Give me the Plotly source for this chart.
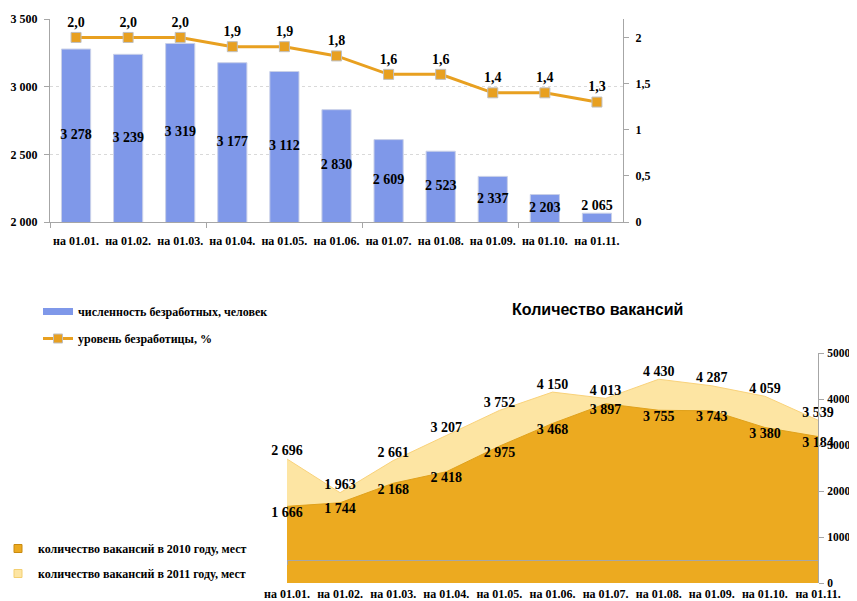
import plotly.graph_objects as go

categories = ["на 01.01.", "на 01.02.", "на 01.03.", "на 01.04.", "на 01.05.", "на 01.06.",
              "на 01.07.", "на 01.08.", "на 01.09.", "на 01.10.", "на 01.11."]
unemployed = [3278, 3239, 3319, 3177, 3112, 2830, 2609, 2523, 2337, 2203, 2065]
rate = [2.0, 2.0, 2.0, 1.9, 1.9, 1.8, 1.6, 1.6, 1.4, 1.4, 1.3]
vac2010 = [1666, 1744, 2168, 2418, 2975, 3468, 3897, 3755, 3743, 3380, 3184]
vac2011 = [2696, 1963, 2661, 3207, 3752, 4150, 4013, 4430, 4287, 4059, 3539]

# page is 857x601; the html body has an 8px margin, so the figure is placed at (8, 8)
PAGE_W, PAGE_H, OFF = 857, 601, 8
W, H = PAGE_W - OFF, PAGE_H - OFF
SERIF = "Liberation Serif, Times New Roman, Tinos, DejaVu Serif, serif"
BOLD = "bold"
AXIS_GRAY = "#A6A6A6"
BAR_BLUE = "#7F98E9"
LINE_ORANGE = "#E8A020"
AREA_2010 = "#ECAA20"
AREA_2011 = "#FDE5A3"

def px_x(p):
    return (p - OFF) / W

def px_y(p):
    return (PAGE_H - p) / H

top_dom_x = [px_x(50), px_x(623)]
top_dom_y = [px_y(222), px_y(19)]
top_range = [2000, 3500]
bot_dom_x = [px_x(287), px_x(818)]
bot_dom_y = [px_y(583), px_y(353)]
bot_range = [0, 5000]
axis_cross = 500
cross_pos = bot_dom_y[0] + (axis_cross - bot_range[0]) / (bot_range[1] - bot_range[0]) * (bot_dom_y[1] - bot_dom_y[0])

def fmt(v):
    return f"{v:,}".replace(",", " ")

label_font = dict(family=SERIF, size=14, color="black", weight=BOLD)

fig = go.Figure()

# ---- top chart ----
fig.add_trace(go.Bar(
    x=categories, y=unemployed,
    name="численность безработных, человек",
    marker=dict(color=BAR_BLUE, line=dict(color="#C9D0E8", width=1)),
    width=0.56, showlegend=False,
    xaxis="x", yaxis="y", hoverinfo="skip",
))
short = [(v - top_range[0]) < 0.1 * (top_range[1] - top_range[0]) for v in unemployed]
fig.add_trace(go.Scatter(
    x=categories,
    y=[v if s else (top_range[0] + v) / 2 for v, s in zip(unemployed, short)],
    mode="text", text=[fmt(v) for v in unemployed],
    textposition=["top center" if s else "middle center" for s in short],
    textfont=label_font, cliponaxis=False, showlegend=False, hoverinfo="skip",
    xaxis="x", yaxis="y",
))
fig.add_trace(go.Scatter(
    x=categories, y=rate, name="уровень безработицы, %",
    mode="lines+markers+text",
    line=dict(color=LINE_ORANGE, width=3),
    marker=dict(symbol="square", size=10, color=LINE_ORANGE, line=dict(color="#BFBFBF", width=1)),
    texttemplate="%{y:.1f}", textposition="top center",
    textfont=label_font, cliponaxis=False, showlegend=False,
    xaxis="x", yaxis="y2", hoverinfo="skip",
))
fig.add_trace(go.Scatter(x=[-0.5], y=[2000], mode="markers", marker=dict(opacity=0),
                         showlegend=False, hoverinfo="skip", xaxis="x4", yaxis="y"))

# legend entries of the top chart
fig.add_trace(go.Scatter(x=[None], y=[None], mode="lines", name="численность безработных, человек",
                         line=dict(color=BAR_BLUE, width=7), legend="legend", legendgroup="a",
                         xaxis="x", yaxis="y"))
fig.add_trace(go.Scatter(x=[None], y=[None], mode="lines+markers", name="уровень безработицы, %",
                         line=dict(color=LINE_ORANGE, width=3),
                         marker=dict(symbol="square", size=9, color=LINE_ORANGE,
                                     line=dict(color="#BFBFBF", width=1)),
                         legend="legend", legendgroup="b", xaxis="x", yaxis="y"))

# ---- bottom chart ----
fig.add_trace(go.Scatter(
    x=categories, y=vac2011, name="количество вакансий в 2011 году, мест",
    mode="lines+text", fill="tozeroy",
    line=dict(color="#F9D27A", width=1), fillcolor=AREA_2011,
    text=[fmt(v) for v in vac2011], textposition="top center",
    textfont=label_font, cliponaxis=False, showlegend=False,
    xaxis="x3", yaxis="y3", hoverinfo="skip",
))
fig.add_trace(go.Scatter(
    x=categories, y=vac2010, name="количество вакансий в 2010 году, мест",
    mode="lines+text", fill="tozeroy",
    line=dict(color="#E0A11B", width=1), fillcolor=AREA_2010,
    text=[fmt(v) for v in vac2010], textposition="bottom center",
    textfont=label_font, cliponaxis=False, showlegend=False,
    xaxis="x3", yaxis="y3", hoverinfo="skip",
))
fig.add_trace(go.Scatter(x=[categories[0]], y=[axis_cross], mode="markers", marker=dict(opacity=0),
                         showlegend=False, hoverinfo="skip", xaxis="x5", yaxis="y3"))

# legend entries of the bottom chart
fig.add_trace(go.Scatter(x=[None], y=[None], mode="markers", name="количество вакансий в 2010 году, мест",
                         marker=dict(symbol="square", size=8, color=AREA_2010,
                                     line=dict(color="#C98A10", width=1)),
                         legend="legend2", legendgroup="c", xaxis="x3", yaxis="y3"))
fig.add_trace(go.Scatter(x=[None], y=[None], mode="markers", name="количество вакансий в 2011 году, мест",
                         marker=dict(symbol="square", size=8, color=AREA_2011,
                                     line=dict(color="#F3CF70", width=1)),
                         legend="legend2", legendgroup="d", xaxis="x3", yaxis="y3"))

tickfont = dict(family=SERIF, size=12, color="black", weight=BOLD)
rtickfont = dict(family=SERIF, size=11.5, color="black", weight=BOLD)
legfont = dict(family=SERIF, size=12, color="black", weight=BOLD)

fig.update_layout(
    width=W, height=H,
    margin=dict(l=0, r=0, t=0, b=0, autoexpand=False),
    paper_bgcolor="white", plot_bgcolor="rgba(0,0,0,0)",
    separators=", ",
    font=dict(family=SERIF, size=12, color="black", weight=BOLD),
    showlegend=True,
    xaxis=dict(domain=top_dom_x, anchor="y", type="category", range=[-0.5, 10.5],
               showline=True, linecolor=AXIS_GRAY, ticks="", tickfont=tickfont,
               ticklabelstandoff=8, showgrid=False, automargin=False),
    xaxis4=dict(overlaying="x", anchor="y", range=[-0.5, 10.5],
                tickvals=[-0.5, 2.5, 5.5, 8.5], ticks="outside", ticklen=5, tickcolor=AXIS_GRAY,
                showticklabels=False, showline=False, showgrid=False, zeroline=False, automargin=False),
    yaxis=dict(domain=top_dom_y, anchor="x", range=top_range, dtick=500,
               tickformat=",", tickfont=tickfont, ticklabelstandoff=4,
               showline=True, linecolor=AXIS_GRAY, ticks="outside", ticklen=5, tickcolor=AXIS_GRAY,
               showgrid=True, gridcolor="#D9D9D9", griddash="dot", zeroline=False, automargin=False),
    yaxis2=dict(overlaying="y", side="right", anchor="x", range=[0, 2.2], dtick=0.5,
                tickfont=tickfont, ticklabelstandoff=4, showline=True, linecolor=AXIS_GRAY,
                ticks="outside", ticklen=5, tickcolor=AXIS_GRAY, showgrid=False, zeroline=False,
                automargin=False),
    xaxis3=dict(domain=bot_dom_x, anchor="y3", type="category", range=[0, 10],
                showline=False, ticks="", tickfont=tickfont, ticklabelstandoff=2,
                showgrid=False, automargin=False),
    xaxis5=dict(overlaying="x3", anchor="free", position=cross_pos, type="category", range=[0, 10],
                showline=True, linecolor=AXIS_GRAY, ticks="outside", ticklen=4, tickcolor=AXIS_GRAY,
                showticklabels=False, showgrid=False, automargin=False),
    yaxis3=dict(domain=bot_dom_y, anchor="x3", side="right", range=bot_range, dtick=1000,
                tickfont=rtickfont, ticklabelstandoff=1, showline=True, linecolor=AXIS_GRAY,
                ticks="outside", ticklen=5, tickcolor=AXIS_GRAY, showgrid=False, zeroline=False,
                automargin=False),
    legend=dict(x=px_x(38), y=px_y(297), xanchor="left", yanchor="top", font=legfont,
                tracegroupgap=8, itemwidth=30, bgcolor="rgba(0,0,0,0)", traceorder="grouped"),
    legend2=dict(x=px_x(-2), y=px_y(534), xanchor="left", yanchor="top", font=legfont,
                 tracegroupgap=6, itemwidth=30, bgcolor="rgba(0,0,0,0)", traceorder="grouped"),
    annotations=[dict(text="Количество вакансий", x=px_x(597), y=px_y(310),
                      xref="paper", yref="paper", xanchor="center", yanchor="middle",
                      showarrow=False,
                      font=dict(family="Liberation Sans, Arial, sans-serif", size=16,
                                color="black", weight=BOLD))],
)

fig.write_html("out.html")
